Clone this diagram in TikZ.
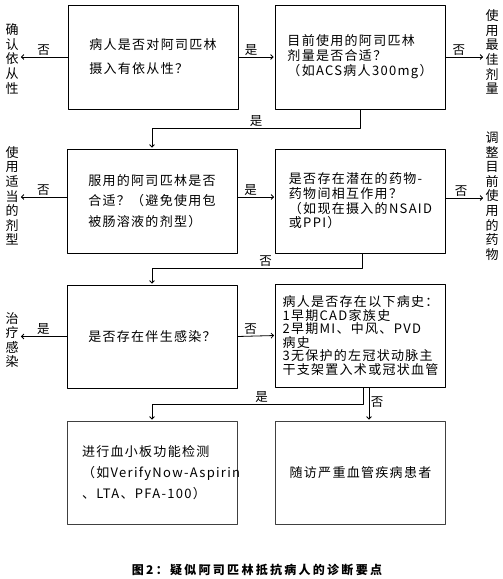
\documentclass[tikz,border=0pt]{standalone}
\usepackage{fontspec}
\setmainfont[LetterSpace=10]{Noto Sans CJK SC}
\newfontfamily\capfont[LetterSpace=19]{Noto Sans CJK SC}
\usetikzlibrary{arrows.meta}
\begin{document}
\begin{tikzpicture}[x=1pt,y=-1pt,line cap=round,line join=round,line width=0.8pt,
  font=\fontsize{13}{15}\selectfont,
  box/.style={draw,minimum width=170pt,minimum height=104pt,align=left,inner sep=2pt},
  side/.style={align=center,inner sep=1pt,font=\fontsize{13}{14.6}\selectfont},
  arr/.style={-{Straight Barb[length=2.5pt,width=5pt]},shorten >=1pt},
  lab/.style={inner sep=1.5pt,font=\fontsize{12.5}{14}\selectfont}]
\useasboundingbox (0,0) rectangle (503,579);
% questions
\node[box,font=\fontsize{13}{24}\selectfont] (q1) at (153,57) {病人是否对阿司匹林\\摄入有依从性？};
\node[box,font=\fontsize{13}{15}\selectfont] (q2) at (360,57) {目前使用的阿司匹林\\剂量是否合适？\\（如ACS病人300mg）};
\node[box,font=\fontsize{13}{20.5}\selectfont] (q3) at (152,201) {服用的阿司匹林是否\\合适？（避免使用包\\被肠溶液的剂型）};
\node[box,font=\fontsize{13}{14.7}\selectfont] (q4) at (360.5,201) {是否存在潜在的药物-\\药物间相互作用？\\（如现在摄入的NSAID\\或PPI）};
\node[box,minimum height=103pt] (q5) at (152,336.5) {是否存在伴生感染？};
\node[box,minimum height=103pt,font=\fontsize{13}{13.6}\selectfont] (q6) at (360.5,335.5) {病人是否存在以下病史：\\1早期CAD家族史\\2早期MI、中风、PVD\\病史\\3无保护的左冠状动脉主\\干支架置入术或冠状血管};
% results
\node[box,minimum height=103pt,text width=140pt,draw=black!75,font=\fontsize{13}{21}\selectfont] (r1) at (152,472.5) {进行血小板功能检测\\\mbox{（如VerifyNow-Aspirin}\\、LTA、PFA-100）};
\node[box,minimum height=103pt,draw=black!75] (r2) at (360.5,472.5) {随访严重血管疾病患者};
% side actions
\node[side] (s1) at (12,59) {确\\认\\依\\从\\性};
\node[side] (s2) at (492,52) {使\\用\\最\\佳\\剂\\量};
\node[side] (s3) at (12,196) {使\\用\\适\\当\\的\\剂\\型};
\node[side] (s4) at (492,196) {调\\整\\目\\前\\使\\用\\的\\药\\物};
\node[side] (s5) at (12,340) {治\\疗\\感\\染};
% row 1
\draw[arr] (q1.east) -- node[lab,above,pos=0.35]{是} (q2.west);
\draw[arr] (q1.west) -- node[lab,above]{否} (q1.west -| s1.east);
\draw[arr] (q2.east) -- node[lab,above,pos=0.35]{否} (q2.east -| s2.west);
\draw[arr] (q2.south) -- ++(0,19) -| node[lab,above,pos=0.25]{是} (q3.north);
% row 2
\draw[arr] ([yshift=4pt]q3.east) -- node[lab,above,pos=0.35]{是} ([yshift=4pt]q4.west);
\draw[arr] ([yshift=4pt]q3.west) -- node[lab,above]{否} ([yshift=4pt]q3.west -| s3.east);
\draw[arr] ([yshift=3pt]q4.east) -- node[lab,above,pos=0.4]{否} ([yshift=3pt]q4.east -| s4.west);
\draw[arr] ([xshift=2pt]q4.south) -- ++(0,15) -| node[lab,above,pos=0.23]{否} (q5.north);
% row 3
\draw[arr] (q5.east) -- node[lab,above,pos=0.35]{否} (q6.west);
\draw[arr] (q5.west) -- node[lab,above]{是} (q5.west -| s5.east);
\draw[arr] ([xshift=2.5pt]q6.south) -- ++(0,17) -| node[lab,above,pos=0.24]{是} (r1.north);
\draw[arr] ([xshift=8.5pt]q6.south) -- node[lab,right,pos=0.45]{否} ([xshift=8.5pt]q6.south |- r2.north);
% caption
\node[font=\capfont\bfseries\fontsize{12}{14}\selectfont] (cap) at (257,570) {图2：疑似阿司匹林抵抗病人的诊断要点};
\end{tikzpicture}
\end{document}
